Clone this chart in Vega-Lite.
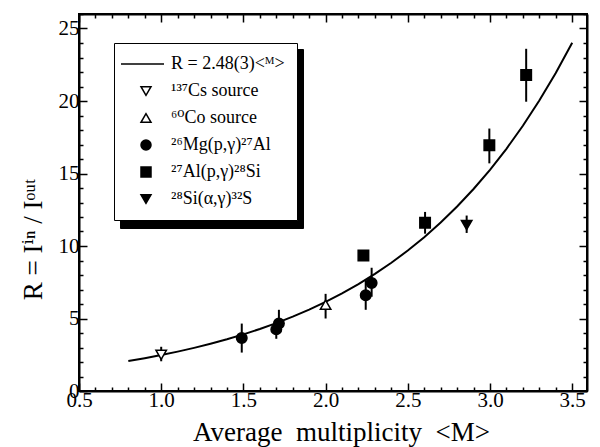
{
  "$schema": "https://vega.github.io/schema/vega-lite/v6.json",
  "autosize": "none",
  "width": 508,
  "height": 377,
  "padding": {"left": 79, "top": 14, "right": 13, "bottom": 56},
  "config": {
    "font": "Liberation Serif",
    "view": {"stroke": "black", "strokeWidth": 2},
    "axis": {
      "domainColor": "black", "domainWidth": 2, "tickColor": "black", "tickWidth": 1.5,
      "labelColor": "black", "titleColor": "black", "grid": false,
      "labelFont": "Liberation Serif", "titleFont": "Liberation Serif, DejaVu Serif",
      "labelFontSize": 21, "titleFontSize": 27, "titleFontWeight": "normal"
    },
    "legend": {
      "labelFont": "Liberation Serif, DejaVu Serif", "labelFontSize": 18, "labelColor": "black"
    }
  },
  "datasets": {
    "fit": [
      {"M": 0.8, "R": 2.068}, {"M": 0.9, "R": 2.265}, {"M": 1.0, "R": 2.48},
      {"M": 1.1, "R": 2.716}, {"M": 1.2, "R": 2.974}, {"M": 1.3, "R": 3.257},
      {"M": 1.4, "R": 3.566}, {"M": 1.5, "R": 3.906}, {"M": 1.6, "R": 4.277},
      {"M": 1.7, "R": 4.683}, {"M": 1.8, "R": 5.129}, {"M": 1.9, "R": 5.617},
      {"M": 2.0, "R": 6.150}, {"M": 2.1, "R": 6.736}, {"M": 2.2, "R": 7.376},
      {"M": 2.3, "R": 8.077}, {"M": 2.4, "R": 8.845}, {"M": 2.5, "R": 9.686},
      {"M": 2.6, "R": 10.607}, {"M": 2.7, "R": 11.616}, {"M": 2.8, "R": 12.721},
      {"M": 2.9, "R": 13.930}, {"M": 3.0, "R": 15.253}, {"M": 3.1, "R": 16.703},
      {"M": 3.2, "R": 18.292}, {"M": 3.3, "R": 20.031}, {"M": 3.4, "R": 21.936},
      {"M": 3.5, "R": 24.02}
    ],
    "pts": [
      {"series": "¹³⁷Cs source", "M": 1.0, "R": 2.5, "lo": 2.05, "hi": 3.05},
      {"series": "²⁶Mg(p,γ)²⁷Al", "M": 1.49, "R": 3.65, "lo": 2.65, "hi": 4.65},
      {"series": "²⁶Mg(p,γ)²⁷Al", "M": 1.70, "R": 4.25, "lo": 3.6, "hi": 4.9},
      {"series": "²⁶Mg(p,γ)²⁷Al", "M": 1.716, "R": 4.65, "lo": 4.0, "hi": 5.6},
      {"series": "⁶⁰Co source", "M": 2.0, "R": 5.95, "lo": 5.0, "hi": 6.7},
      {"series": "²⁷Al(p,γ)²⁸Si", "M": 2.23, "R": 9.35, "lo": 9.0, "hi": 9.7},
      {"series": "²⁶Mg(p,γ)²⁷Al", "M": 2.244, "R": 6.6, "lo": 5.6, "hi": 7.65},
      {"series": "²⁶Mg(p,γ)²⁷Al", "M": 2.28, "R": 7.45, "lo": 6.5, "hi": 8.5},
      {"series": "²⁷Al(p,γ)²⁸Si", "M": 2.605, "R": 11.6, "lo": 10.85, "hi": 12.35},
      {"series": "²⁸Si(α,γ)³²S", "M": 2.858, "R": 11.45, "lo": 10.9, "hi": 12.1},
      {"series": "²⁷Al(p,γ)²⁸Si", "M": 2.996, "R": 16.95, "lo": 15.7, "hi": 18.1},
      {"series": "²⁷Al(p,γ)²⁸Si", "M": 3.22, "R": 21.8, "lo": 19.95, "hi": 23.6}
    ]
  },
  "layer": [
    {
      "data": {"name": "fit"},
      "mark": {"type": "line", "color": "black", "strokeWidth": 2},
      "encoding": {
        "x": {
          "field": "M", "type": "quantitative",
          "scale": {"domain": [0.5, 3.59], "nice": false, "zero": false},
          "axis": {
            "orient": "bottom",
            "title": "Average\u00a0 multiplicity\u00a0 <M>",
            "titlePadding": 5,
            "titleX": 262,
            "values": [0.5,0.6,0.7,0.8,0.9,1.0,1.1,1.2,1.3,1.4,1.5,1.6,1.7,1.8,1.9,2.0,2.1,2.2,2.3,2.4,2.5,2.6,2.7,2.8,2.9,3.0,3.1,3.2,3.3,3.4,3.5],
            "tickSize": {"condition": {"test": "abs(datum.value*2 - round(datum.value*2)) < 0.001", "value": -8}, "value": -4},
            "labelExpr": "abs(datum.value*2 - round(datum.value*2)) < 0.001 ? format(datum.value, '.1f') : ''",
            "labelPadding": 6,
            "labelFlush": false,
            "labelOverlap": false
          }
        },
        "y": {
          "field": "R", "type": "quantitative",
          "scale": {"domain": [0, 26], "nice": false},
          "axis": {
            "orient": "left",
            "title": "R  =  Iⁱⁿ / Iᵒᵘᵗ",
            "titleX": -46,
            "titleY": 225,
            "titleBaseline": "middle",
            "values": [0,1,2,3,4,5,6,7,8,9,10,11,12,13,14,15,16,17,18,19,20,21,22,23,24,25,26],
            "tickSize": {"condition": {"test": "datum.value % 5 === 0", "value": -8}, "value": -4},
            "labelExpr": "datum.value % 5 === 0 && datum.value <= 25 ? format(datum.value, 'd') : ''",
            "labelPadding": 8,
            "labelFlush": false,
            "labelOverlap": false
          }
        },
        "opacity": {
          "datum": "frame", "type": "nominal",
          "scale": {"range": [1]},
          "legend": {
            "title": null, "orient": "none", "legendX": 41, "legendY": 35,
            "strokeColor": "black", "fillColor": "black", "padding": 12,
            "symbolType": "square", "symbolSize": 24025, "symbolOpacity": 0,
            "symbolStrokeWidth": 0, "labelExpr": "''", "labelOffset": 4, "zindex": 0
          }
        }
      }
    },
    {
      "data": {"name": "pts"},
      "mark": {"type": "rule", "color": "black", "strokeWidth": 2},
      "encoding": {
        "x": {
          "field": "M", "type": "quantitative",
          "axis": {
            "orient": "top", "title": null, "labels": false,
            "values": [0.5,0.6,0.7,0.8,0.9,1.0,1.1,1.2,1.3,1.4,1.5,1.6,1.7,1.8,1.9,2.0,2.1,2.2,2.3,2.4,2.5,2.6,2.7,2.8,2.9,3.0,3.1,3.2,3.3,3.4,3.5],
            "tickSize": {"condition": {"test": "abs(datum.value*2 - round(datum.value*2)) < 0.001", "value": -8}, "value": -4}
          }
        },
        "y": {
          "field": "lo", "type": "quantitative",
          "axis": {
            "orient": "right", "title": null, "labels": false,
            "values": [0,1,2,3,4,5,6,7,8,9,10,11,12,13,14,15,16,17,18,19,20,21,22,23,24,25,26],
            "tickSize": {"condition": {"test": "datum.value % 5 === 0", "value": -8}, "value": -4}
          }
        },
        "y2": {"field": "hi"}
      }
    },
    {
      "data": {"name": "pts"},
      "mark": {"type": "point", "filled": true, "strokeWidth": 1.5, "size": 110, "opacity": 1},
      "encoding": {
        "x": {"field": "M", "type": "quantitative", "axis": null},
        "y": {"field": "R", "type": "quantitative", "axis": null},
        "shape": {
          "field": "series", "type": "nominal",
          "scale": {
            "domain": ["R = 2.48(3)˂ᴹ˃", "¹³⁷Cs source", "⁶⁰Co source", "²⁶Mg(p,γ)²⁷Al", "²⁷Al(p,γ)²⁸Si", "²⁸Si(α,γ)³²S"],
            "range": ["M-5,0H3.6", "triangle-down", "triangle-up", "circle", "square", "triangle-down"]
          },
          "legend": {
            "title": null, "orient": "none", "legendX": 35, "legendY": 29,
            "strokeColor": "black", "fillColor": "white", "padding": 12,
            "symbolSize": 100, "symbolStrokeWidth": 1.5, "symbolOffset": 11,
            "rowPadding": 9, "labelOffset": 16, "zindex": 1
          }
        },
        "fill": {
          "field": "series", "type": "nominal",
          "scale": {
            "domain": ["R = 2.48(3)˂ᴹ˃", "¹³⁷Cs source", "⁶⁰Co source", "²⁶Mg(p,γ)²⁷Al", "²⁷Al(p,γ)²⁸Si", "²⁸Si(α,γ)³²S"],
            "range": ["transparent", "white", "white", "black", "black", "black"]
          },
          "legend": {
            "title": null, "orient": "none", "legendX": 35, "legendY": 29,
            "strokeColor": "black", "fillColor": "white", "padding": 12,
            "symbolSize": 100, "symbolStrokeWidth": 1.5, "symbolOffset": 11,
            "rowPadding": 9, "labelOffset": 16, "zindex": 1
          }
        },
        "stroke": {
          "field": "series", "type": "nominal",
          "scale": {
            "domain": ["R = 2.48(3)˂ᴹ˃", "¹³⁷Cs source", "⁶⁰Co source", "²⁶Mg(p,γ)²⁷Al", "²⁷Al(p,γ)²⁸Si", "²⁸Si(α,γ)³²S"],
            "range": ["black", "black", "black", "black", "black", "black"]
          },
          "legend": {
            "title": null, "orient": "none", "legendX": 35, "legendY": 29,
            "strokeColor": "black", "fillColor": "white", "padding": 12,
            "symbolSize": 100, "symbolStrokeWidth": 1.5, "symbolOffset": 11,
            "rowPadding": 9, "labelOffset": 16, "zindex": 1
          }
        }
      }
    }
  ],
  "resolve": {"axis": {"x": "independent", "y": "independent"}}
}
